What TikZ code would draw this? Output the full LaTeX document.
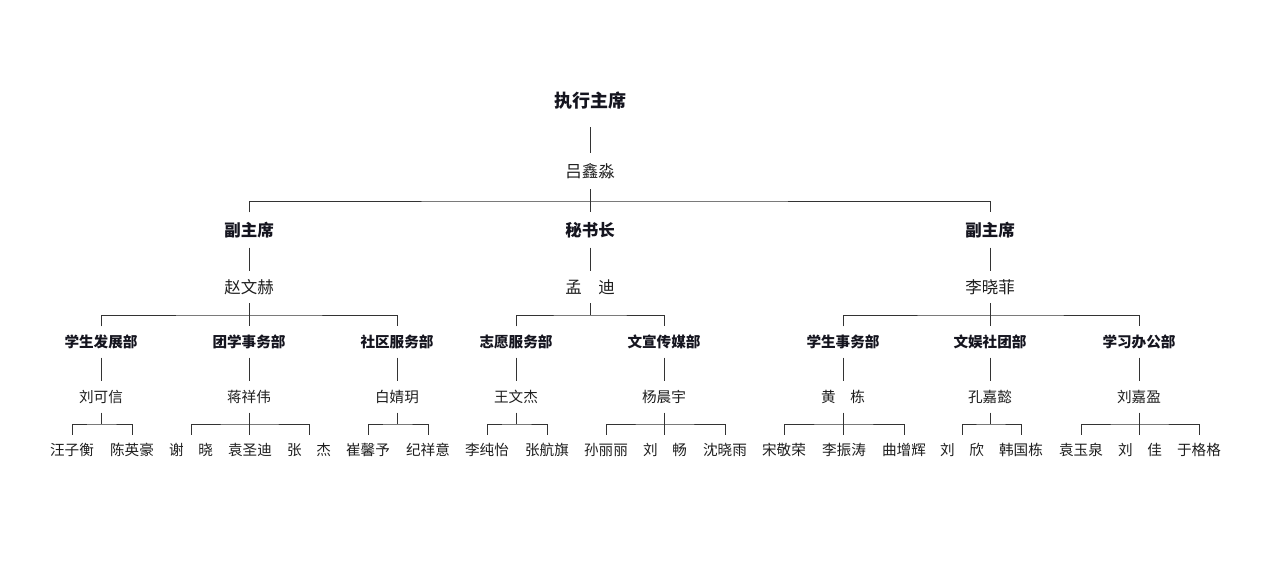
\documentclass[tikz,border=0pt]{standalone}
\usepackage{fontspec}
\setmainfont{Noto Sans CJK SC}
\usepackage{tikz}
\usetikzlibrary{positioning}
\definecolor{ink}{HTML}{15151F}
\definecolor{txtgray}{HTML}{1E1E1E}
\definecolor{wire}{HTML}{333333}

\begin{document}
\begin{tikzpicture}[x=1pt,y=-1pt,inner sep=0pt]
  \tikzstyle{line}=[wire,line width=0.9pt]
  \tikzstyle{chief}=[ink,minimum height=52pt,font=\fontsize{18}{20}\selectfont\bfseries]
  \tikzstyle{chiefname}=[txtgray,minimum height=36pt,font=\fontsize{16.5}{19}\selectfont]
  \tikzstyle{vice}=[ink,minimum height=35pt,font=\fontsize{16.5}{19}\selectfont\bfseries]
  \tikzstyle{vicename}=[txtgray,minimum height=32pt,font=\fontsize{16.5}{19}\selectfont]
  \tikzstyle{dept}=[ink,minimum height=31pt,font=\fontsize{14.6}{17}\selectfont\bfseries]
  \tikzstyle{lead}=[txtgray,minimum height=31pt,font=\fontsize{14.6}{17}\selectfont]
  \tikzstyle{member}=[txtgray,minimum height=30pt,font=\fontsize{14.6}{17}\selectfont]

  \useasboundingbox (0,0) rectangle (1269,570);

  % top of the tree
  \node [chief] (zxzx) at (590,101) {执行主席};
  \node [chiefname] (lxm) at (590,171) {吕鑫淼};
  \draw [line] (zxzx) -- (lxm);

  % second row
  \node [vice] (fzx1) at (249,230) {副主席};
  \node [vice] (msz) at (590,230) {秘书长};
  \node [vice] (fzx2) at (990,230) {副主席};
  \node [vicename] (zwh) at (249,287) {赵文赫};
  \node [vicename] (md) at (590,287) {孟　迪};
  \node [vicename] (lxf) at (990,287) {李晓菲};
  \coordinate (bar0) at (590,201);
  \draw [line] (lxm) -- (msz);
  \draw [line] (fzx1) |- (bar0) -| (fzx2);
  \draw [line] (fzx1) -- (zwh);
  \draw [line] (msz) -- (md);
  \draw [line] (fzx2) -- (lxf);

  % departments
  \node [dept] (d1) at (101,342) {学生发展部};
  \node [dept] (d2) at (249,342) {团学事务部};
  \node [dept] (d3) at (397,342) {社区服务部};
  \node [dept] (d4) at (516,342) {志愿服务部};
  \node [dept] (d5) at (664,342) {文宣传媒部};
  \node [dept] (d6) at (843,342) {学生事务部};
  \node [dept] (d7) at (990,342) {文娱社团部};
  \node [dept] (d8) at (1139,342) {学习办公部};
  \coordinate (barA) at (249,315);
  \coordinate (barB) at (590,315);
  \coordinate (barC) at (990,315);
  \draw [line] (zwh) -- (d2);
  \draw [line] (d1) |- (barA) -| (d3);
  \draw [line] (md) -- (barB);
  \draw [line] (d4) |- (barB) -| (d5);
  \draw [line] (lxf) -- (d7);
  \draw [line] (d6) |- (barC) -| (d8);

  % heads of the departments
  \node [lead] (l1) at (101,397) {刘可信};
  \node [lead] (l2) at (249,397) {蒋祥伟};
  \node [lead] (l3) at (397,397) {白婧玥};
  \node [lead] (l4) at (516,397) {王文杰};
  \node [lead] (l5) at (664,397) {杨晨宇};
  \node [lead] (l6) at (843,397) {黄　栋};
  \node [lead] (l7) at (990,397) {孔嘉懿};
  \node [lead] (l8) at (1139,397) {刘嘉盈};
  \draw [line] (d1) -- (l1);
  \draw [line] (d2) -- (l2);
  \draw [line] (d3) -- (l3);
  \draw [line] (d4) -- (l4);
  \draw [line] (d5) -- (l5);
  \draw [line] (d6) -- (l6);
  \draw [line] (d7) -- (l7);
  \draw [line] (d8) -- (l8);

  % members, bottom row
  \node [member] (m11) at (72,450) {汪子衡};
  \node [member] (m12) at (132,450) {陈英豪};
  \node [member] (m21) at (191,450) {谢　晓};
  \node [member] (m22) at (250,450) {袁圣迪};
  \node [member] (m23) at (309,450) {张　杰};
  \node [member] (m31) at (368,450) {崔馨予};
  \node [member] (m32) at (428,450) {纪祥意};
  \node [member] (m41) at (487,450) {李纯怡};
  \node [member] (m42) at (547,450) {张航旗};
  \node [member] (m51) at (606,450) {孙丽丽};
  \node [member] (m52) at (665,450) {刘　畅};
  \node [member] (m53) at (725,450) {沈晓雨};
  \node [member] (m61) at (784,450) {宋敬荣};
  \node [member] (m62) at (844,450) {李振涛};
  \node [member] (m63) at (904,450) {曲增辉};
  \node [member] (m71) at (962,450) {刘　欣};
  \node [member] (m72) at (1021,450) {韩国栋};
  \node [member] (m81) at (1081,450) {袁玉泉};
  \node [member] (m82) at (1140,450) {刘　佳};
  \node [member] (m83) at (1199,450) {于格格};

  % bars under the heads
  \coordinate (k1) at (101,424);
  \coordinate (k2) at (249,424);
  \coordinate (k3) at (397,424);
  \coordinate (k4) at (516,424);
  \coordinate (k5) at (664,424);
  \coordinate (k6) at (843,424);
  \coordinate (k7) at (990,424);
  \coordinate (k8) at (1139,424);
  \draw [line] (l1) -- (k1);
  \draw [line] (m11) |- (k1) -| (m12);
  \draw [line] (l2) -- (k2 |- m22.north);
  \draw [line] (m21) |- (k2) -| (m23);
  \draw [line] (l3) -- (k3);
  \draw [line] (m31) |- (k3) -| (m32);
  \draw [line] (l4) -- (k4);
  \draw [line] (m41) |- (k4) -| (m42);
  \draw [line] (l5) -- (k5 |- m52.north);
  \draw [line] (m51) |- (k5) -| (m53);
  \draw [line] (l6) -- (k6 |- m62.north);
  \draw [line] (m61) |- (k6) -| (m63);
  \draw [line] (l7) -- (k7);
  \draw [line] (m71) |- (k7) -| (m72);
  \draw [line] (l8) -- (k8 |- m82.north);
  \draw [line] (m81) |- (k8) -| (m83);

\end{tikzpicture}
\end{document}
